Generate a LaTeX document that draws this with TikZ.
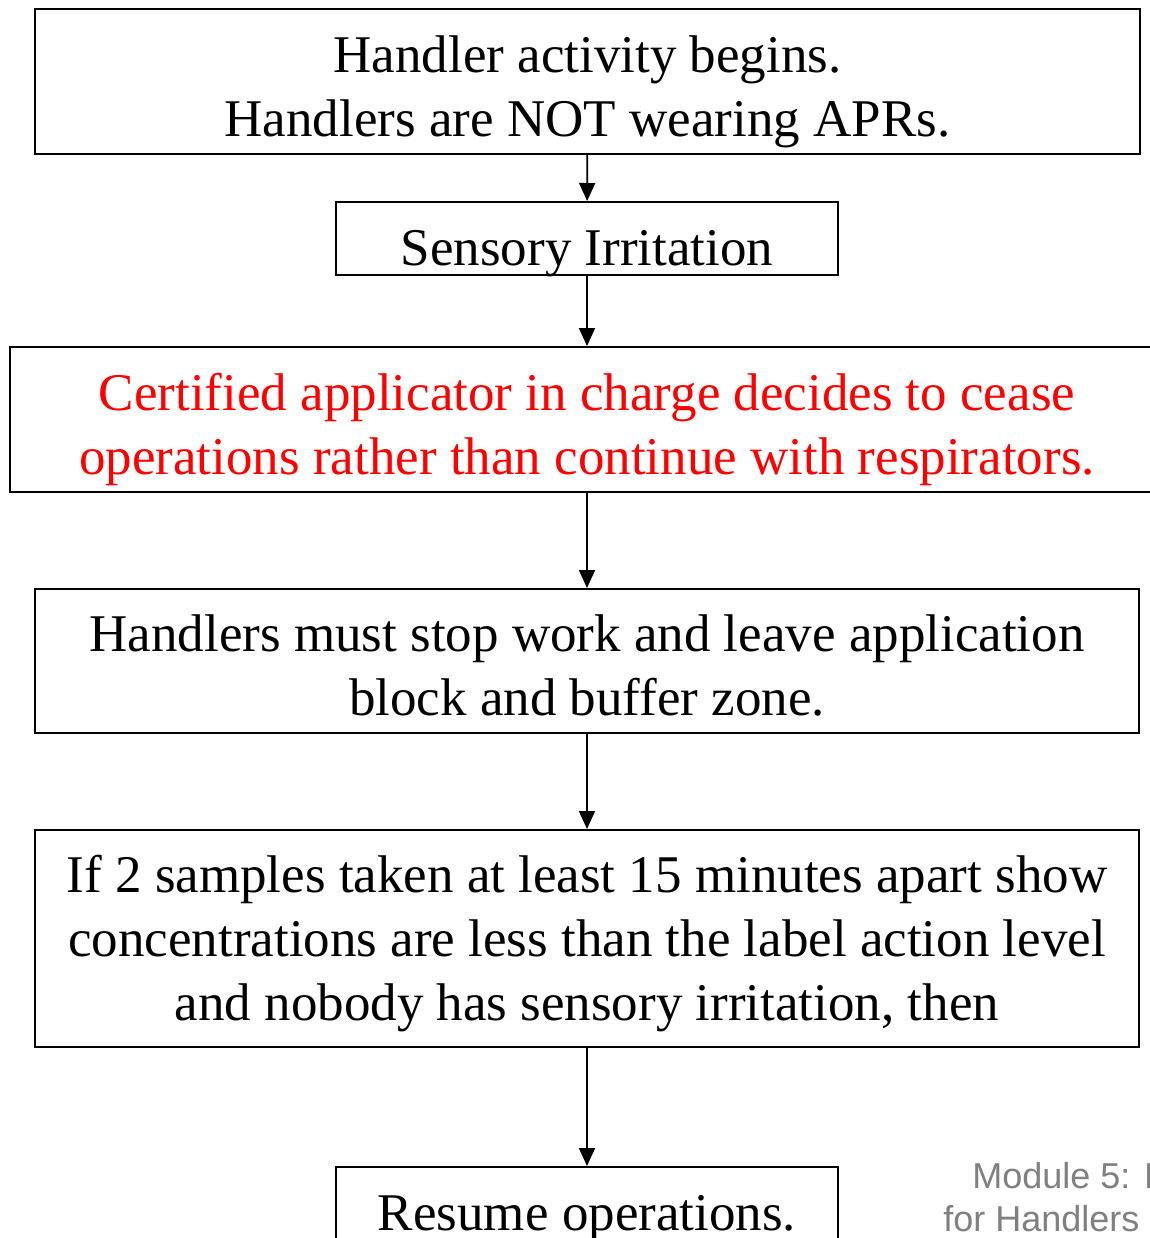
\documentclass[tikz,border=0pt]{standalone}
\usepackage{fontspec}
\setmainfont{Liberation Serif}
\newfontfamily\footfont{Liberation Sans}
\usetikzlibrary{
  arrows.meta,
  positioning
}
\definecolor{hdText}{HTML}{000000}
\definecolor{hdRed}{HTML}{FF0000}
\definecolor{hdMute}{HTML}{808080}
\tikzset{
  hdbox/.style={
    draw, line width=1pt, inner sep=0pt, align=center, text=hdText,
    font=\fontsize{26.5}{32}\selectfont
  },
  widebox/.style={hdbox, minimum width=552pt, text height=63.5pt, text depth=9pt},
  smallbox/.style={hdbox, minimum width=251pt, text height=31.5pt, text depth=5pt},
  alertbox/.style={widebox, minimum width=577pt, text=hdRed},
  flow/.style={-{Triangle[length=9pt, width=8pt]}, line width=0.9pt},
  foot/.style={font=\footfont\fontsize{18}{21}\selectfont, text=hdMute, inner sep=0pt, anchor=base west}
}
\begin{document}
\begin{tikzpicture}[x=0.5pt, y=-0.5pt]
  \useasboundingbox (0,0) rectangle (1150,1238);
  \clip (0,0) rectangle (1150,1238);
  % boxes
  \node[widebox, minimum width=552.5pt] (begin) at (587.5,81.5) {Handler activity begins.\\Handlers are NOT wearing APRs.};
  \node[smallbox] (sense) at (587,238.5) {Sensory Irritation};
  \node[alertbox] (cease) at (587,419.5) {Certified applicator in charge decides to cease\\operations rather than continue with respirators.};
  \node[widebox, text height=63pt] (leave) at (587,661) {Handlers must stop work and leave application\\block and buffer zone.};
  \node[widebox, text height=95pt, text depth=13.5pt] (sample) at (587,938.5) {If 2 samples taken at least 15 minutes apart show\\concentrations are less than the label action level\\and nobody has sensory irritation, then};
  \node[smallbox] (resume) at (587,1203.5) {Resume operations.};
  % arrows
  \draw[flow] (begin) -- (sense);
  \draw[flow] (sense) -- (cease);
  \draw[flow] (cease) -- (leave);
  \draw[flow] (leave) -- (sample);
  \draw[flow] (sample) -- (resume);
  % footer
  \node[foot] (mod) at (972,1188) {Module 5: I};
  \node[foot] (hand) at (943,1231) {for Handlers};
\end{tikzpicture}
\end{document}
